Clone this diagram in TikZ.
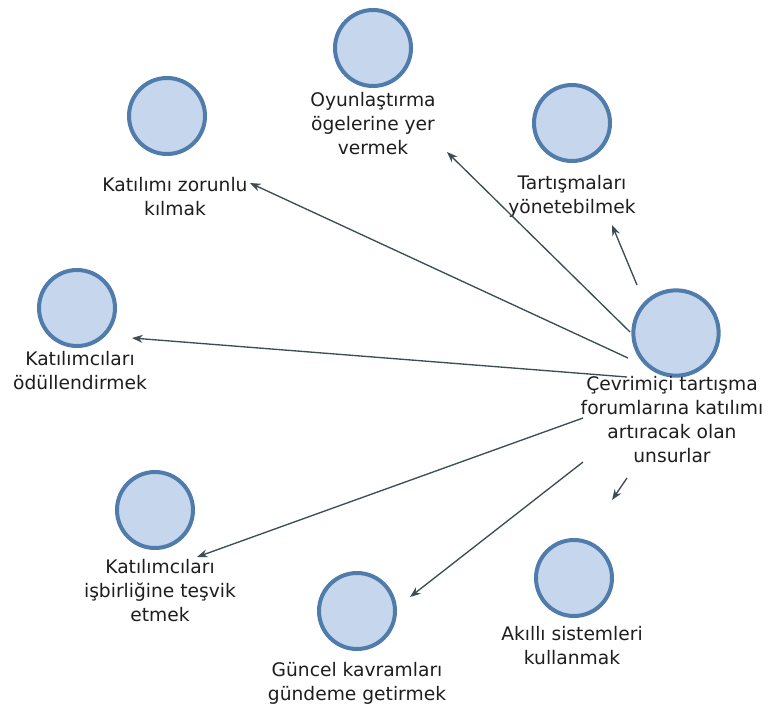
\documentclass[tikz,border=0pt]{standalone}
\usepackage{fontspec}
\setmainfont{DejaVu Sans}
\usetikzlibrary{arrows.meta}
\definecolor{cfill}{RGB}{198,214,236}
\definecolor{cring}{RGB}{79,124,171}
\definecolor{cline}{RGB}{58,78,84}
\definecolor{ctext}{RGB}{30,30,30}
\begin{document}
\begin{tikzpicture}[x=0.75pt,y=-0.75pt,
  bub/.style={circle,fill=cfill,draw=cring,line width=3pt,minimum size=57pt,inner sep=0pt},
  bigbub/.style={bub,minimum size=64pt},
  lab/.style={anchor=north,align=center,inner sep=0pt,text=ctext,font=\fontsize{14pt}{18pt}\selectfont},
  conn/.style={draw=cline,line width=1pt,-{Stealth[length=8pt,width=6pt]}}]
\useasboundingbox (0,0) rectangle (770,711);
\fill[white] (0,0) rectangle (770,711);
% circles
\node[bub] (n1) at (373,48) {};
\node[bub] (n2) at (572,123) {};
\node[bub] (n3) at (167,116) {};
\node[bub] (n4) at (77,308) {};
\node[bigbub] (c) at (676,333) {};
\node[bub] (n5) at (155,510) {};
\node[bub] (n6) at (357,611) {};
\node[bub] (n7) at (574,578) {};
% labels
\node[lab] (l1) at (373,92) {Oyunlaştırma\\ögelerine yer\\vermek};
\node[lab] (l2) at (572,175) {Tartışmaları\\yönetebilmek};
\node[lab] (l3) at (175,177) {Katılımı zorunlu\\kılmak};
\node[lab] (l4) at (80,351) {Katılımcıları\\ödüllendirmek};
\node[lab] (lc) at (672,376) {Çevrimiçi tartışma\\forumlarına katılımı\\artıracak olan\\unsurlar};
\node[lab] (l5) at (160,559) {Katılımcıları\\işbirliğine teşvik\\etmek};
\node[lab] (l6) at (357,662) {Güncel kavramları\\gündeme getirmek};
\node[lab] (l7) at (572,626) {Akıllı sistemleri\\kullanmak};
% connector ends
\coordinate (s1) at (630,332);
\coordinate (s2) at (628,358);
\coordinate (s3) at (627,377);
\coordinate (s4) at (637,285);
\coordinate (s5) at (583,418);
\coordinate (s6) at (583,462);
\coordinate (s7) at (627,478);
\coordinate (e1) at (447,152);
\coordinate (e2) at (250,183);
\coordinate (e3) at (132,338);
\coordinate (e4) at (612,225);
\coordinate (e5) at (197,557);
\coordinate (e6) at (410,597);
\coordinate (e7) at (612,500);
\draw[conn] (s1) -- (e1);
\draw[conn] (s2) -- (e2);
\draw[conn] (s3) -- (e3);
\draw[conn] (s4) -- (e4);
\draw[conn] (s5) -- (e5);
\draw[conn] (s6) -- (e6);
\draw[conn] (s7) -- (e7);
\end{tikzpicture}
\end{document}
